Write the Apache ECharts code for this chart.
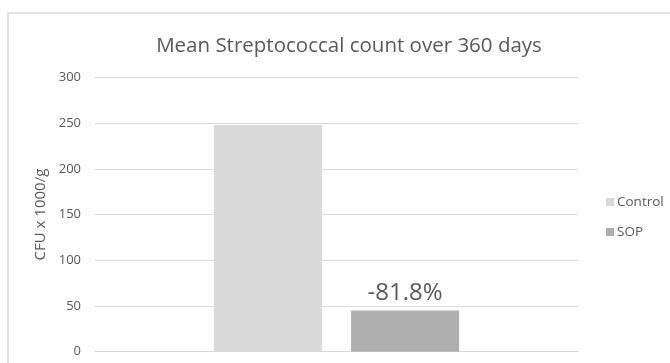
<!DOCTYPE html>
<html>
<head>
<meta charset="utf-8">
<script src="https://cdn.jsdelivr.net/npm/echarts@6/dist/echarts.min.js"></script>
<style>
html,body{margin:0;padding:0;background:#fff;}
#chart{width:670px;height:363px;}
</style>
</head>
<body>
<div id="chart"></div>
<script>
const categories = [''];
const seriesNames = ['Control', 'SOP'];
const controlValues = [248];
const sopValues = [45.1];
const sopLabel = '-81.8%';
const yTicks = [0, 50, 100, 150, 200, 250, 300];

const chart = echarts.init(document.getElementById('chart'));
const textColor = '#595959';
const font = '"Open Sans", "Liberation Sans", sans-serif';
chart.setOption({
  animation: false,
  textStyle: { fontFamily: font },
  graphic: [{
    type: 'rect',
    shape: { x: 8, y: 13, width: 720, height: 420 },
    style: { fill: 'none', stroke: '#d9d9d9', lineWidth: 1.5 },
    silent: true
  }],
  title: {
    text: 'Mean Streptococcal count over 360 days',
    left: 344, top: 31, textAlign: 'center',
    textStyle: { fontFamily: font, fontSize: 20.5, fontWeight: 'normal', color: textColor }
  },
  legend: {
    orient: 'vertical',
    left: 601, top: 190,
    itemWidth: 8, itemHeight: 8, itemGap: 16,
    icon: 'rect',
    textStyle: { fontFamily: font, fontSize: 13.5, color: textColor, padding: [0, 0, 0, -2] },
    data: seriesNames
  },
  grid: { left: 95, right: 92, top: 77.4, bottom: 11.3 },
  xAxis: {
    type: 'category',
    data: categories,
    axisLine: { show: true, lineStyle: { color: '#d9d9d9', width: 1 } },
    axisTick: { show: false },
    axisLabel: { show: false }
  },
  yAxis: {
    type: 'value',
    min: yTicks[0], max: yTicks[yTicks.length - 1], interval: 50,
    name: 'CFU x 1000/g',
    nameLocation: 'middle',
    nameGap: 42,
    nameTextStyle: { fontFamily: font, fontSize: 15, color: textColor },
    axisLine: { show: false },
    axisTick: { show: false },
    axisLabel: { fontFamily: font, fontSize: 13, color: textColor, margin: 14 },
    splitLine: { lineStyle: { color: '#d9d9d9', width: 1 } }
  },
  series: [
    {
      name: seriesNames[0], type: 'bar', data: controlValues,
      barWidth: 108, barGap: '27%',
      itemStyle: { color: '#d9d9d9' }
    },
    {
      name: seriesNames[1], type: 'bar', data: sopValues,
      barWidth: 108,
      itemStyle: { color: '#afafaf' },
      label: {
        show: true, position: 'top', distance: 5,
        formatter: () => sopLabel,
        fontFamily: font, fontSize: 24, color: textColor
      }
    }
  ]
});
</script>
</body>
</html>
